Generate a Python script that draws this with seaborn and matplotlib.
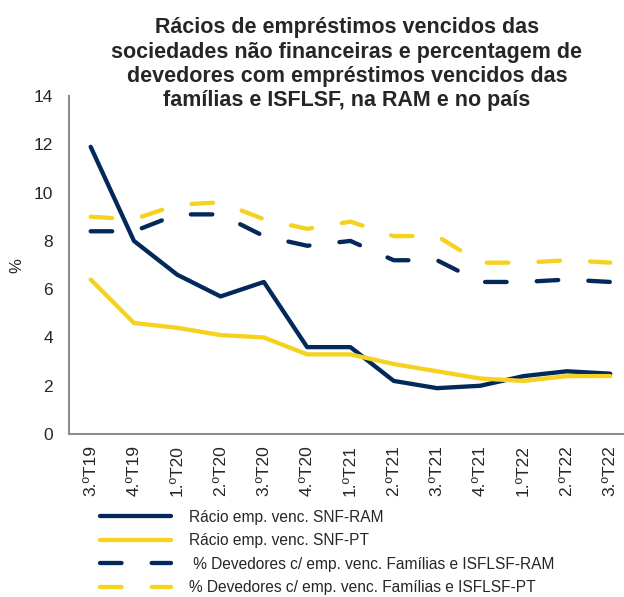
#Libraries----------------------------------------------------------------------

import numpy as np
import pandas as pd
import seaborn as sns
import matplotlib.pyplot as plt


#Data----------------------------------------------------------------------

quarters = ["3.ºT19", "4.ºT19", "1.ºT20", "2.ºT20", "3.ºT20", "4.ºT20", "1.ºT21",
            "2.ºT21", "3.ºT21", "4.ºT21", "1.ºT22", "2.ºT22", "3.ºT22"]

snf_ram = [11.9, 8.0, 6.6, 5.7, 6.3, 3.6, 3.6, 2.2, 1.9, 2.0, 2.4, 2.6, 2.5]
snf_pt = [6.4, 4.6, 4.4, 4.1, 4.0, 3.3, 3.3, 2.9, 2.6, 2.3, 2.2, 2.4, 2.4]
dev_ram = [8.4, 8.4, 9.1, 9.1, 8.2, 7.8, 8.0, 7.2, 7.2, 6.3, 6.3, 6.4, 6.3]
dev_pt = [9.0, 8.9, 9.5, 9.6, 8.9, 8.5, 8.8, 8.2, 8.2, 7.1, 7.1, 7.2, 7.1]

labels = ["Rácio emp. venc. SNF-RAM",
          "Rácio emp. venc. SNF-PT",
          " % Devedores c/ emp. venc. Famílias e ISFLSF-RAM",
          "% Devedores c/ emp. venc. Famílias e ISFLSF-PT"]

title = ("Rácios de empréstimos vencidos das\n"
         "sociedades não financeiras e percentagem de\n"
         "devedores com empréstimos vencidos das\n"
         "famílias e ISFLSF, na RAM e no país")

navy = "#03295a"
yellow = "#f5d21f"
grey = "#8c8c8c"


##Plot----------------------------------------------------------------------

sns.set_style("white")
plt.rcParams['font.family'] = ['Liberation Sans', 'DejaVu Sans']

fig = plt.figure(figsize=(6.24, 5.97), dpi=100)
ax = fig.add_axes([0.1106, 0.273, 0.902, 0.566])

series = [(snf_ram, navy, "-"), (snf_pt, yellow, "-"),
          (dev_ram, navy, (0, (5.0, 7.0))), (dev_pt, yellow, (0, (5.0, 7.0)))]

for (vals, col, ls), lab in zip(series, labels):
    df = pd.DataFrame({"trimestre": quarters, "valor": vals})
    sns.lineplot(data=df, x="trimestre", y="valor", ax=ax, color=col,
                 linestyle=ls, linewidth=3.1, label=lab,
                 solid_capstyle="round", dash_capstyle="round")

ax.set_xlim(-0.5, len(quarters) - 0.5)
ax.set_ylim(0, 14)
ax.set_yticks(np.arange(0, 15, 2))
ax.set_xticks(np.arange(len(quarters)))
ax.set_xticklabels(quarters, rotation=90, fontsize=12.5)
ax.set_xticks(np.arange(len(quarters)) - 0.5, minor=True)
ax.tick_params(axis="x", which="major", length=0, pad=8)
ax.tick_params(axis="x", which="minor", length=4, width=1.2, color=grey, direction="out")
ax.tick_params(axis="y", length=4.5, width=1.2, color=grey, direction="out", labelsize=12.5, pad=7)
ax.set_xlabel("")
ax.set_ylabel("%", fontsize=12, labelpad=7)

for s in ["top", "right"]:
    ax.spines[s].set_visible(False)
for s in ["left", "bottom"]:
    ax.spines[s].set_color(grey)
    ax.spines[s].set_linewidth(1.5)

ax.legend().remove()
handles, labs = ax.get_legend_handles_labels()
fig.legend(handles, labs, loc="upper left", bbox_to_anchor=(0.160, 0.146),
           frameon=False, fontsize=11.2, handlelength=4.6, handletextpad=1.15,
           labelspacing=0.54, borderpad=0, borderaxespad=0)

fig.text(0.556, 1 - 106 / 597, title, ha="center", va="baseline", fontsize=15.5,
         fontweight="bold", linespacing=1.2)

fig.savefig("out.png", dpi=100)
